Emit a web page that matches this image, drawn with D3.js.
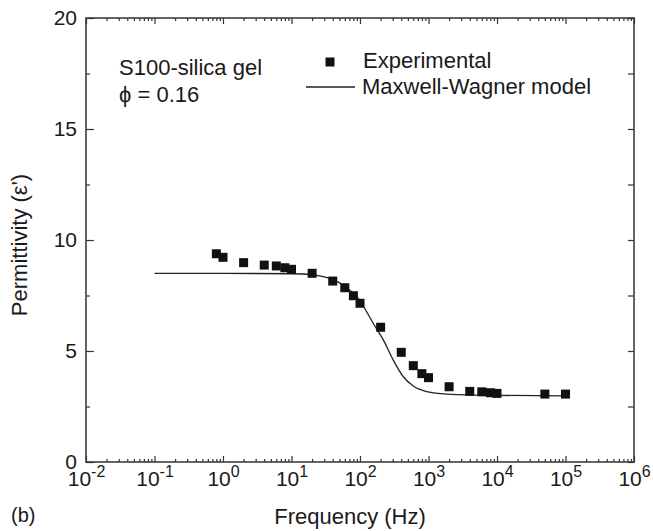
<!DOCTYPE html>
<html>
<head>
<meta charset="utf-8">
<script src="https://cdn.jsdelivr.net/npm/d3@7"></script>
<style>
  body { margin: 0; background: #fff; }
  svg { display: block; font-family: "Liberation Sans", Arial, sans-serif; }
  .axis path { display: none; }
  .axis line { stroke: #333; stroke-width: 1.2; }
  .axis text { fill: #1a1a1a; font-size: 21px; font-family: "Liberation Sans", Arial, sans-serif; }
</style>
</head>
<body>
<svg width="653" height="531"></svg>
<script>
// experimental points (Hz, permittivity)
var expFreq = [0.8, 1, 2, 4, 6, 8, 10, 20, 40, 60, 80, 100, 200, 400, 600, 800, 1000, 2000, 4000, 6000, 8000, 10000, 50000, 100000];
var expPerm = [9.38, 9.22, 8.98, 8.87, 8.83, 8.75, 8.68, 8.50, 8.15, 7.85, 7.49, 7.15, 6.07, 4.94, 4.34, 3.98, 3.80, 3.39, 3.18, 3.16, 3.12, 3.09, 3.06, 3.06];

// Maxwell-Wagner model curve
var mwFreq = [0.1, 1, 10, 20, 26, 40, 59, 80, 100, 125, 156, 219, 306, 429, 600, 940, 1850, 10000, 100000];
var mwPerm = [8.50, 8.50, 8.48, 8.44, 8.38, 8.23, 7.93, 7.60, 7.27, 6.77, 6.25, 5.50, 4.59, 3.84, 3.42, 3.17, 3.06, 3.00, 2.98];

var xDecades = [-2, -1, 0, 1, 2, 3, 4, 5, 6];
var yMajor = [0, 5, 10, 15, 20];
var yMinor = [2.5, 7.5, 12.5, 17.5];

var svg = d3.select("svg"),
  pl = 86, pr = 634, pt = 18, pb = 462;

var x = d3.scaleLog().domain([1e-2, 1e6]).range([pl, pr]);
var y = d3.scaleLinear().domain([0, 20]).range([pb, pt]);

var majorX = xDecades.map(function(e) { return Math.pow(10, e); });
var minorX = x.ticks().filter(function(t) { return majorX.indexOf(t) < 0; });

// bottom axis
svg.append("g").attr("class", "axis").attr("transform", "translate(0," + pb + ")")
  .call(d3.axisBottom(x).tickValues(minorX).tickSize(-3).tickFormat(""));
var bx = svg.append("g").attr("class", "axis").attr("transform", "translate(0," + pb + ")")
  .call(d3.axisBottom(x).tickValues(majorX).tickSize(-6).tickFormat(""));
bx.selectAll(".tick text").remove();
bx.selectAll(".tick").each(function(d, i) {
  var t = d3.select(this).append("text")
    .attr("y", 24)
    .attr("text-anchor", "middle")
    .style("fill", "#1a1a1a");
  t.append("tspan").text("10");
  t.append("tspan").attr("dy", -9).style("font-size", "16px").text(xDecades[i]);
});

// top axis
svg.append("g").attr("class", "axis").attr("transform", "translate(0," + pt + ")")
  .call(d3.axisTop(x).tickValues(minorX).tickSize(-3).tickFormat(""));
svg.append("g").attr("class", "axis").attr("transform", "translate(0," + pt + ")")
  .call(d3.axisTop(x).tickValues(majorX).tickSize(-6).tickFormat(""));

// left axis
svg.append("g").attr("class", "axis").attr("transform", "translate(" + pl + ",0)")
  .call(d3.axisLeft(y).tickValues(yMinor).tickSize(-4).tickFormat(""));
svg.append("g").attr("class", "axis").attr("transform", "translate(" + pl + ",0)")
  .call(d3.axisLeft(y).tickValues(yMajor).tickSize(-8).tickPadding(9).tickFormat(d3.format("d")));

// right axis
svg.append("g").attr("class", "axis").attr("transform", "translate(" + pr + ",0)")
  .call(d3.axisRight(y).tickValues(yMajor.concat(yMinor)).tickSize(-6).tickFormat(""));

// frame
svg.append("rect")
  .attr("x", pl).attr("y", pt)
  .attr("width", pr - pl).attr("height", pb - pt)
  .attr("fill", "none").attr("stroke", "#333").attr("stroke-width", 1.5);

// model line
var line = d3.line()
  .x(function(d, i) { return x(mwFreq[i]); })
  .y(function(d) { return y(d); })
  .curve(d3.curveMonotoneX);

svg.append("path")
  .datum(mwPerm)
  .attr("d", line)
  .attr("fill", "none")
  .attr("stroke", "#222")
  .attr("stroke-width", 1.3);

// experimental squares
var s = 9;
svg.selectAll(".pt")
  .data(expPerm)
  .enter().append("rect")
  .attr("class", "pt")
  .attr("x", function(d, i) { return x(expFreq[i]) - s / 2; })
  .attr("y", function(d) { return y(d) - s / 2; })
  .attr("width", s).attr("height", s)
  .attr("fill", "#111");

// annotations
svg.append("text").attr("x", 119).attr("y", 75)
  .style("font-size", "22px").style("fill", "#1a1a1a").text("S100-silica gel");
svg.append("text").attr("x", 119).attr("y", 102)
  .style("font-size", "22px").style("fill", "#1a1a1a").text("\u03d5 = 0.16");

// legend
svg.append("rect").attr("x", 330 - 4.5).attr("y", 62 - 4.5).attr("width", 9).attr("height", 9).attr("fill", "#111");
svg.append("text").attr("x", 363).attr("y", 68)
  .style("font-size", "22px").style("fill", "#1a1a1a").text("Experimental");
svg.append("line").attr("x1", 306).attr("x2", 355).attr("y1", 87).attr("y2", 87)
  .attr("stroke", "#222").attr("stroke-width", 1.3);
svg.append("text").attr("x", 362).attr("y", 94)
  .style("font-size", "22px").style("fill", "#1a1a1a").text("Maxwell-Wagner model");

// axis titles
svg.append("text").attr("x", 350).attr("y", 524).attr("text-anchor", "middle")
  .style("font-size", "22px").style("fill", "#1a1a1a").text("Frequency (Hz)");
svg.append("text").attr("transform", "translate(27,245) rotate(-90)").attr("text-anchor", "middle")
  .style("font-size", "22px").style("fill", "#1a1a1a").text("Permittivity (\u03b5')");
svg.append("text").attr("x", 11).attr("y", 522)
  .style("font-size", "20px").style("fill", "#1a1a1a").text("(b)");
</script>
</body>
</html>
